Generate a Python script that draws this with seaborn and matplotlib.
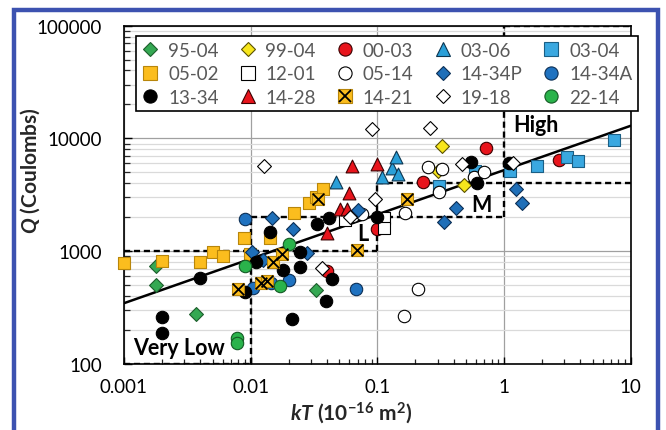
import matplotlib
matplotlib.use("Agg")
import matplotlib.pyplot as plt
from matplotlib.lines import Line2D
from matplotlib.patches import Rectangle
from matplotlib.ticker import FixedLocator, FixedFormatter, LogLocator, NullFormatter
import seaborn as sns

# kT (10^-16 m^2) and Q (Coulombs)
kt_95_04 = [0.0018, 0.0018, 0.0037, 0.033]
q_95_04 = [740, 500, 280, 454]
kt_99_04 = [0.323, 0.485, 0.30]
q_99_04 = [8600, 3880, 5150]
kt_00_03 = [0.231, 0.719, 2.70, 0.100, 0.040]
q_00_03 = [4120, 8150, 6420, 1570, 668]
kt_03_06 = [0.047, 0.109, 0.130, 0.140, 0.145]
q_03_06 = [4070, 4510, 5420, 6780, 4820]
kt_03_04 = [0.304, 0.592, 1.12, 1.82, 3.14, 3.84, 7.33]
q_03_04 = [3800, 5160, 5090, 5650, 6780, 6320, 9720]
kt_05_02 = [0.001, 0.002, 0.004, 0.005, 0.006, 0.0089, 0.0098, 0.0142, 0.022, 0.029, 0.033, 0.0375]
q_05_02 = [778, 820, 795, 990, 900, 1300, 940, 1320, 2175, 2670, 3010, 3550]
kt_12_01 = [0.0557, 0.112, 0.112]
q_12_01 = [1880, 1960, 1620]
kt_05_14 = [0.0648, 0.0755, 0.166, 0.209, 0.161, 0.253, 0.323, 0.304, 0.575, 0.689]
q_05_14 = [2060, 2130, 2190, 467, 267, 5600, 5340, 3320, 4510, 4990]
kt_14_34p = [0.0147, 0.0217, 0.0277, 0.070, 0.337, 0.419, 1.248, 1.38, 0.0102, 0.0124]
q_14_34p = [1950, 1570, 960, 2320, 1800, 2410, 3550, 2650, 990, 840]
kt_14_34a = [0.0091, 0.0105, 0.0145, 0.0202, 0.0676]
q_14_34a = [1920, 476, 527, 556, 467]
kt_13_34 = [0.002, 0.002, 0.004, 0.0091, 0.011, 0.0141, 0.0179, 0.0246, 0.0243,
            0.0211, 0.0333, 0.0419, 0.100, 0.0437, 0.0392, 0.548, 0.611, 1.086]
q_13_34 = [261, 190, 575, 436, 810, 1480, 678, 725, 990,
           249, 1740, 1950, 2010, 565, 362, 6120, 3990, 6000]
kt_14_28 = [0.0399, 0.0508, 0.0581, 0.0599, 0.0629, 0.1002]
q_14_28 = [1450, 2390, 2390, 3270, 5710, 5910]
kt_14_21 = [0.0079, 0.0121, 0.0134, 0.0151, 0.0176, 0.0689, 0.171, 0.0341]
q_14_21 = [467, 520, 545, 795, 940, 1020, 2890, 2890]
kt_19_18 = [0.0128, 0.0905, 0.261, 0.095, 0.061, 0.465, 1.175, 0.0365]
q_19_18 = [5650, 12090, 12340, 2890, 1990, 5910, 6000, 716]
kt_22_14 = [0.009, 0.0078, 0.0078, 0.0202, 0.0171]
q_22_14 = [740, 171, 155, 1150, 492]

# fitted trend line end points
fit_kt = [0.001, 10]
fit_q = [346, 12940]

# class boundaries (dashed)
bounds = [
    ([0.001, 0.1], [1000, 1000]),
    ([0.01, 0.01], [100, 2000]),
    ([0.01, 0.1], [2000, 2000]),
    ([0.1, 0.1], [1000, 4000]),
    ([0.1, 10], [4000, 4000]),
    ([0.1, 1], [2000, 2000]),
    ([1, 1], [2000, 100000]),
    ([1, 10], [100000, 100000]),
    ([0.001, 0.01], [100, 100]),
]

x_ticks = [0.001, 0.01, 0.1, 1, 10]
x_labels = ["0.001", "0.01", "0.1", "1", "10"]
y_ticks = [100, 1000, 10000, 100000]
y_labels = ["100", "1000", "10000", "100000"]

# name, x, y, marker, face, edge
series = [
    ("95-04", kt_95_04, q_95_04, "D", "#35a853", "#1d5e2c"),
    ("99-04", kt_99_04, q_99_04, "D", "#f7e61c", "#5a5200"),
    ("00-03", kt_00_03, q_00_03, "o", "#e8141c", "#3a0000"),
    ("03-06", kt_03_06, q_03_06, "^", "#2a9fd8", "#0c3550"),
    ("03-04", kt_03_04, q_03_04, "s", "#3aa8e0", "#1a5f85"),
    ("05-02", kt_05_02, q_05_02, "s", "#fbbd1e", "#b8860b"),
    ("12-01", kt_12_01, q_12_01, "s", "white", "black"),
    ("05-14", kt_05_14, q_05_14, "o", "white", "black"),
    ("14-34P", kt_14_34p, q_14_34p, "D", "#1f6fb8", "#0c2f55"),
    ("14-34A", kt_14_34a, q_14_34a, "o", "#1f72c0", "#0c2f55"),
    ("13-34", kt_13_34, q_13_34, "o", "black", "black"),
    ("14-28", kt_14_28, q_14_28, "^", "#e8141c", "#3a0000"),
    ("14-21", kt_14_21, q_14_21, "s", "#fbbd1e", "#b8860b"),
    ("19-18", kt_19_18, q_19_18, "D", "white", "black"),
    ("22-14", kt_22_14, q_22_14, "o", "#2ab34b", "#145a25"),
]
sizes = {"o": 80, "s": 80, "D": 50, "^": 85}
msize = {"o": 9.5, "s": 9.5, "D": 7.5, "^": 10}

sns.set_theme(style="white")
plt.rcParams["font.family"] = ["Lato", "DejaVu Sans"]
plt.rcParams["mathtext.fontset"] = "custom"
plt.rcParams["mathtext.rm"] = "Lato:bold"
plt.rcParams["mathtext.it"] = "Lato:bold:italic"
plt.rcParams["mathtext.bf"] = "Lato:bold"

fig = plt.figure(figsize=(6.66, 4.31), dpi=100)
ax = fig.add_axes([124 / 666, 1 - 365 / 431, 506.7 / 666, 338.4 / 431])
ax.set_xscale("log")
ax.set_yscale("log")
ax.set_xlim(0.001, 10)
ax.set_ylim(100, 100000)

ax.yaxis.set_minor_locator(LogLocator(base=10, subs=range(2, 10)))
ax.xaxis.set_minor_locator(LogLocator(base=10, subs=range(2, 10)))
ax.grid(which="major", axis="both", color="#a0a0a0", lw=0.9, zorder=0)
ax.grid(which="minor", axis="y", color="#dadada", lw=0.9, zorder=0)
ax.set_axisbelow(True)

for xs, ys in bounds:
    ax.plot(xs, ys, color="black", lw=1.7, dashes=(2.6, 1.6), zorder=2)
ax.plot(fit_kt, fit_q, color="black", lw=1.8, zorder=2)

handles = {}
for name, xs, ys, mk, fc, ec in series:
    sns.scatterplot(x=xs, y=ys, marker=mk, s=sizes[mk], color=fc, edgecolor=ec,
                    linewidth=0.8, ax=ax, zorder=3, legend=False, clip_on=False)
    h = Line2D([], [], ls="none", marker=mk, markersize=msize[mk],
               markerfacecolor=fc, markeredgecolor=ec, markeredgewidth=0.8)
    if name == "14-21":
        sns.scatterplot(x=xs, y=ys, marker="x", s=70, color="black",
                        linewidth=1.3, ax=ax, zorder=4, legend=False)
        hx = Line2D([], [], ls="none", marker="x", markersize=8,
                    markeredgecolor="black", markeredgewidth=1.3)
        h = (h, hx)
    handles[name] = h

names = [s[0] for s in series]
order = [names[r * 5 + c] for c in range(5) for r in range(3)]
leg = ax.legend([handles[n] for n in order], order, ncol=5, loc="upper left",
                bbox_to_anchor=(0.024, 0.968), borderaxespad=0, fontsize=13.5,
                frameon=True, fancybox=False, framealpha=1, edgecolor="black",
                handlelength=0.9, handletextpad=0.5, columnspacing=1.1,
                labelspacing=0.34, borderpad=0.3, labelcolor="#595959")
leg.get_frame().set_linewidth(1.2)
leg.set_zorder(6)

bold = dict(fontsize=15.5, fontweight="bold", color="black", zorder=5)
ax.text(0.00118, 141, "Very Low", ha="left", va="center", **bold)
ax.text(0.0773, 1440, "L", ha="center", va="center", **bold)
ax.text(0.668, 2610, "M", ha="center", va="center", **bold)
ax.text(1.175, 13400, "High", ha="left", va="center", **bold)

ax.xaxis.set_major_locator(FixedLocator(x_ticks))
ax.xaxis.set_major_formatter(FixedFormatter(x_labels))
ax.xaxis.set_minor_formatter(NullFormatter())
ax.yaxis.set_major_locator(FixedLocator(y_ticks))
ax.yaxis.set_major_formatter(FixedFormatter(y_labels))
ax.yaxis.set_minor_formatter(NullFormatter())
ax.tick_params(axis="x", which="major", direction="in", length=5, width=1,
               bottom=True, pad=10, labelsize=13.5, colors="black")
ax.tick_params(axis="x", which="minor", direction="in", length=3.5, width=0.9, bottom=True)
ax.tick_params(axis="y", which="major", direction="in", length=6, width=1,
               left=True, pad=16, labelsize=13.5, colors="black")
ax.tick_params(axis="y", which="minor", direction="in", length=4.5, width=0.9, left=True)
for sp in ax.spines.values():
    sp.set_color("black")
    sp.set_linewidth(1.2)

ax.set_xlabel(r"$kT$ (10$^{-16}$ m$^{2}$)", fontsize=15, fontweight="bold")
ax.set_ylabel(r"$Q$ (Coulombs)", fontsize=15, fontweight="bold")
ax.xaxis.set_label_coords(0.448, -0.103)
ax.yaxis.set_label_coords(-0.162, 0.573)

fig.patches.append(Rectangle((14 / 666, -0.05), 644 / 666, 1.05 - 11 / 431,
                             transform=fig.transFigure, fill=False,
                             edgecolor="#3c52b0", lw=3.2, zorder=0))

fig.savefig("out.png", dpi=100)
